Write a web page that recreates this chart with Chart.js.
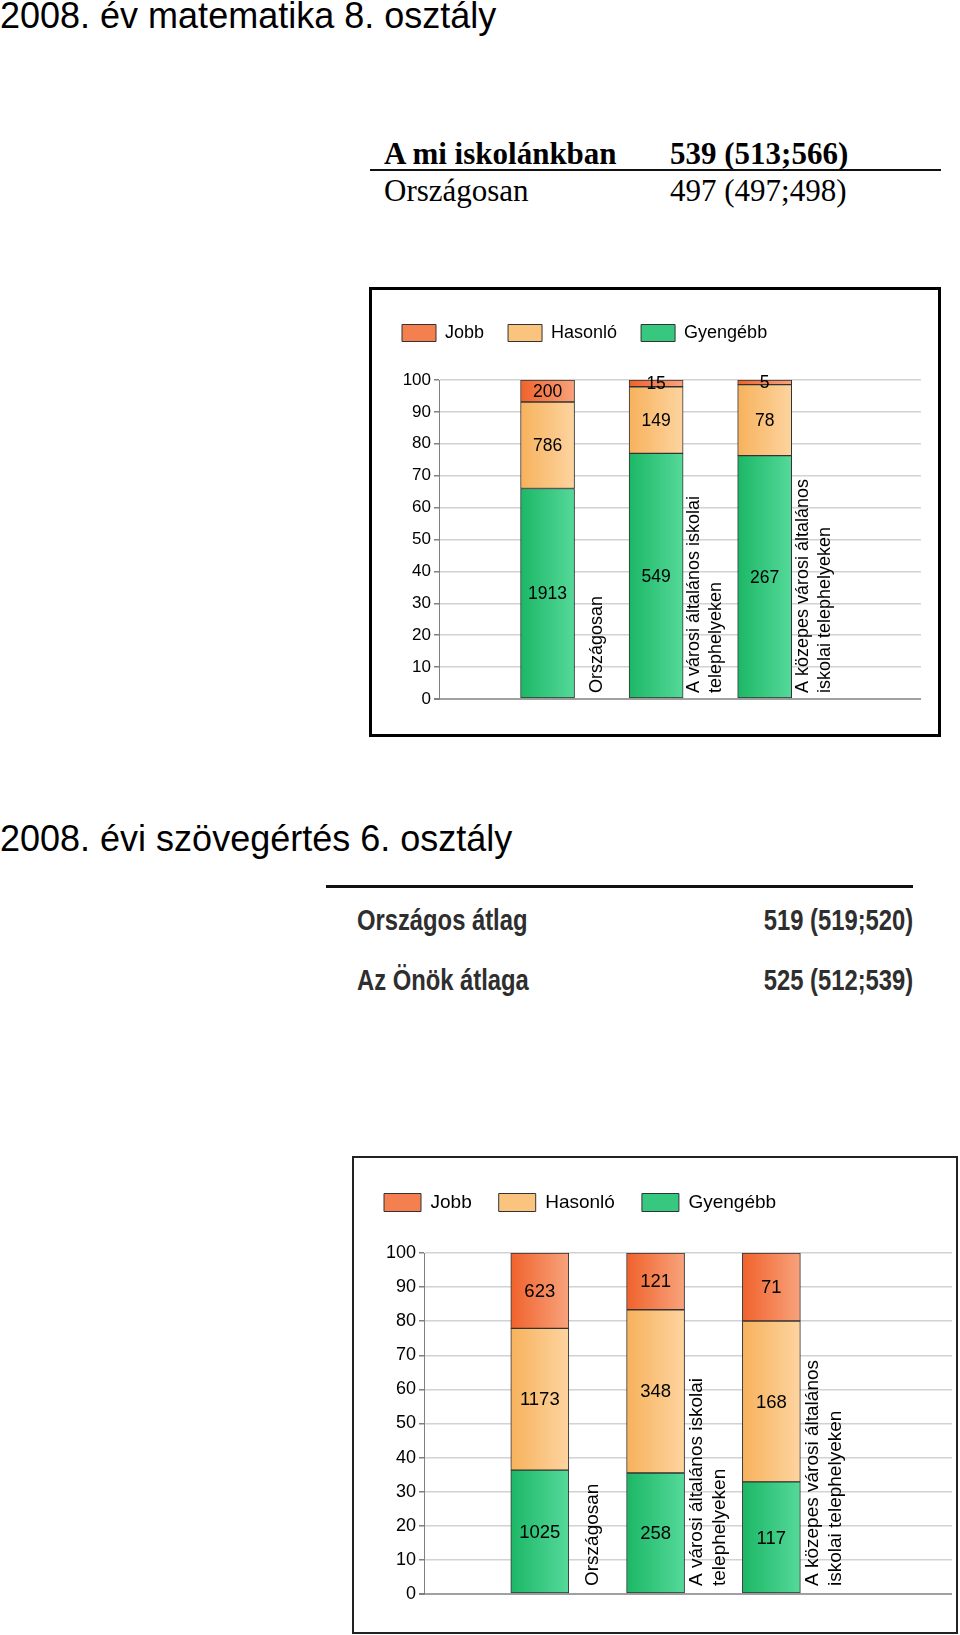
<!DOCTYPE html>
<html lang="hu">
<head>
<meta charset="UTF-8">
<title>2008 kompetenciamérés</title>
<script src="https://cdn.jsdelivr.net/npm/chart.js@4.4.1/dist/chart.umd.min.js"></script>
<style>
  body { margin: 0; background: #fff; width: 960px; height: 1635px; position: relative; overflow: hidden; }
  .abs { position: absolute; white-space: nowrap; }
  .cim { font-family: "Liberation Sans", Arial, sans-serif; font-size: 36px; line-height: 36px; color: #000; }
  .tab1 { font-family: "Liberation Serif", "Times New Roman", serif; font-size: 31px; line-height: 31px; color: #000; }
  .tab2 { font-family: "Liberation Sans", Arial, sans-serif; font-weight: bold; font-size: 29px; line-height: 29px; color: #2e2e2e; }
  .bal { transform: scaleX(0.82); transform-origin: left center; }
  .jobb { transform: scaleX(0.82); transform-origin: right center; }
  .doboz { position: absolute; box-sizing: border-box; background: #fff; }
</style>
</head>
<body>

<div class="abs cim" style="left:0; top:-2px;">2008. év matematika 8. osztály</div>

<div class="abs tab1" style="left:384px; top:138px; font-weight:bold;">A mi iskolánkban</div>
<div class="abs tab1" style="left:670px; top:138px; font-weight:bold;">539 (513;566)</div>
<div class="abs" style="left:370px; top:169px; width:571px; height:2px; background:#111;"></div>
<div class="abs tab1" style="left:384px; top:175px;">Országosan</div>
<div class="abs tab1" style="left:670px; top:175px;">497 (497;498)</div>

<div class="doboz" style="left:369px; top:287px; width:572px; height:450px; border:3px solid #000;">
  <canvas id="grafMat"></canvas>
</div>

<div class="abs cim" style="left:0; top:821px;">2008. évi szövegértés 6. osztály</div>

<div class="abs" style="left:326px; top:885px; width:587px; height:3px; background:#111;"></div>
<div class="abs tab2 bal" style="left:357px; top:906px;">Országos átlag</div>
<div class="abs tab2 jobb" style="right:47px; top:906px;">519 (519;520)</div>
<div class="abs tab2 bal" style="left:357px; top:966px;">Az Önök átlaga</div>
<div class="abs tab2 jobb" style="right:47px; top:966px;">525 (512;539)</div>

<div class="doboz" style="left:352px; top:1156px; width:606px; height:478px; border:2px solid #222;">
  <canvas id="grafSzov"></canvas>
</div>

<script>
// kategoriak (a forgatott feliratok az oszlopok mellett)
const kategoriak = [
    'Országosan',
    ['A városi általános iskolai', 'telephelyeken'],
    ['A közepes városi általános', 'iskolai telephelyeken']
];
const sorozatNevek = ['Jobb', 'Hasonló', 'Gyengébb'];

// 2008 matematika 8. osztaly - letszamok
const mat8Jobb = [200, 15, 5];
const mat8Hasonlo = [786, 149, 78];
const mat8Gyengebb = [1913, 549, 267];

// 2008 szovegertes 6. osztaly - letszamok
const szov6Jobb = [623, 121, 71];
const szov6Hasonlo = [1173, 348, 168];
const szov6Gyengebb = [1025, 258, 117];

// y tengely: 0..100 szazalek
const yMin = 0;
const yMax = 100;
const yLepes = 10;

// szinek: bal (sotetebb) -> jobb (vilagosabb), kozep a jelmagyarazathoz
const szinek = {
    Jobb: ['#f0622c', '#f8a37c', '#f4804f'],
    'Hasonló': ['#f7b25c', '#fdd4a0', '#fbc47e'],
    'Gyengébb': ['#1cb766', '#55d99a', '#37c87f']
};

Chart.defaults.font.family = '"Liberation Sans", Arial, sans-serif';
Chart.defaults.color = '#000';

function szazalek(ertekek, osszes) {
    return ertekek.map((v, i) => v / osszes[i] * 100);
}

function kitoltes(nev, vastag) {
    const [bal, jobb, kozep] = szinek[nev];
    return function (ctx) {
        if (ctx.type !== 'data') return kozep;
        const xs = ctx.chart.scales.x;
        if (!xs || !ctx.chart.chartArea) return kozep;
        const cx = xs.getPixelForValue(ctx.dataIndex + 1);
        const g = ctx.chart.ctx.createLinearGradient(cx - vastag / 2, 0, cx + vastag / 2, 0);
        g.addColorStop(0, bal);
        g.addColorStop(1, jobb);
        return g;
    };
}

// szamok a szegmensek kozepen
const cimkePlugin = {
    id: 'cimkek',
    afterDatasetsDraw(chart, args, opts) {
        const c = chart.ctx;
        c.save();
        c.font = opts.betu + 'px "Liberation Sans", Arial, sans-serif';
        c.fillStyle = '#000';
        c.textAlign = 'center';
        c.textBaseline = 'middle';
        chart.data.datasets.forEach((ds, i) => {
            chart.getDatasetMeta(i).data.forEach((el, j) => {
                c.fillText(String(ds.letszam[j]), el.x, (el.y + el.base) / 2 + 1);
            });
        });
        c.restore();
    }
};

// forgatott kategoria feliratok az oszlopok jobb oldalan
const kategoriaPlugin = {
    id: 'kategoriak',
    afterDraw(chart, args, opts) {
        const xs = chart.scales.x, ys = chart.scales.y;
        const c = chart.ctx;
        const lepes = xs.getPixelForValue(2) - xs.getPixelForValue(1);
        const alj = ys.getPixelForValue(0) - opts.alja;
        c.save();
        c.font = opts.betu + 'px "Liberation Sans", Arial, sans-serif';
        c.fillStyle = '#000';
        c.textAlign = 'left';
        c.textBaseline = 'middle';
        kategoriak.forEach((k, j) => {
            const sorok = Array.isArray(k) ? k : [k];
            const kozep = xs.getPixelForValue(j + 1) + lepes * 0.455;
            sorok.forEach((s, n) => {
                const x = kozep + (n - (sorok.length - 1) / 2) * opts.sortav;
                c.save();
                c.translate(x, alj);
                c.rotate(-Math.PI / 2);
                c.fillText(s, 0, 0);
                c.restore();
            });
        });
        c.restore();
    }
};

function grafikon(id, jobb, hasonlo, gyengebb, st) {
    const osszes = jobb.map((v, i) => v + hasonlo[i] + gyengebb[i]);
    const adatok = { Jobb: jobb, 'Hasonló': hasonlo, 'Gyengébb': gyengebb };
    // alulrol felfele: Gyengébb, Hasonló, Jobb
    const sorrend = ['Gyengébb', 'Hasonló', 'Jobb'];
    const datasets = sorrend.map(nev => ({
        label: nev,
        letszam: adatok[nev],
        data: szazalek(adatok[nev], osszes).map((v, i) => ({ x: i + 1, y: v })),
        backgroundColor: kitoltes(nev, st.vastag),
        borderColor: '#333',
        borderWidth: 1,
        borderSkipped: false,
        barThickness: st.vastag
    }));

    const canvas = document.getElementById(id);
    canvas.style.width = st.w + 'px';
    canvas.style.height = st.h + 'px';
    canvas.width = st.w;
    canvas.height = st.h;

    return new Chart(canvas, {
        type: 'bar',
        data: { datasets: datasets },
        options: {
            responsive: false,
            animation: false,
            layout: { padding: st.padding },
            plugins: {
                tooltip: { enabled: false },
                legend: {
                    position: 'top',
                    align: 'start',
                    labels: {
                        boxWidth: st.dobozW,
                        boxHeight: st.dobozH,
                        padding: st.legPad,
                        color: '#111',
                        font: { size: st.legBetu, lineHeight: 1 },
                        generateLabels: () => sorozatNevek.map((nev, i) => ({
                            text: nev,
                            fillStyle: szinek[nev][2],
                            strokeStyle: '#333',
                            lineWidth: 1,
                            hidden: false,
                            datasetIndex: 2 - i
                        }))
                    }
                },
                cimkek: { betu: st.betu },
                kategoriak: { betu: st.katBetu, sortav: st.sortav, alja: st.alja }
            },
            scales: {
                x: {
                    type: 'linear',
                    position: 'top',
                    stacked: true,
                    offset: false,
                    min: 0,
                    max: st.xMax,
                    ticks: { display: false },
                    grid: { display: false, offset: false },
                    border: { display: false },
                    afterFit: s => { s.height = st.resz; }
                },
                y: {
                    stacked: true,
                    min: yMin,
                    max: yMax,
                    ticks: {
                        stepSize: yLepes,
                        padding: 3,
                        color: '#000',
                        font: { size: st.tickBetu }
                    },
                    grid: {
                        color: c => c.tick && c.tick.value === 0 ? '#a0a0a0' : '#d2d2d2',
                        lineWidth: c => c.tick && c.tick.value === 0 ? 2 : 1.5,
                        tickColor: '#808080',
                        tickLength: 5,
                        drawTicks: true
                    },
                    border: { display: true, color: '#808080', width: 1 },
                    afterFit: s => { s.width = st.yW; }
                }
            }
        },
        plugins: [cimkePlugin, kategoriaPlugin]
    });
}

grafikon('grafMat', mat8Jobb, mat8Hasonlo, mat8Gyengebb, {
    w: 566, h: 444,
    padding: { left: 6, top: 10, right: 17, bottom: 35 },
    yW: 61, resz: 28, xMax: 4.44, vastag: 54,
    dobozW: 34, dobozH: 17, legPad: 24, legBetu: 18,
    betu: 17.5, katBetu: 18, sortav: 22, alja: 6, tickBetu: 17
});

grafikon('grafSzov', szov6Jobb, szov6Hasonlo, szov6Gyengebb, {
    w: 602, h: 474,
    padding: { left: 3, top: 8, right: 4, bottom: 38 },
    yW: 67, resz: 31, xMax: 4.56, vastag: 58,
    dobozW: 37, dobozH: 18, legPad: 27, legBetu: 19,
    betu: 18.5, katBetu: 19, sortav: 23, alja: 8, tickBetu: 18
});
</script>
</body>
</html>
